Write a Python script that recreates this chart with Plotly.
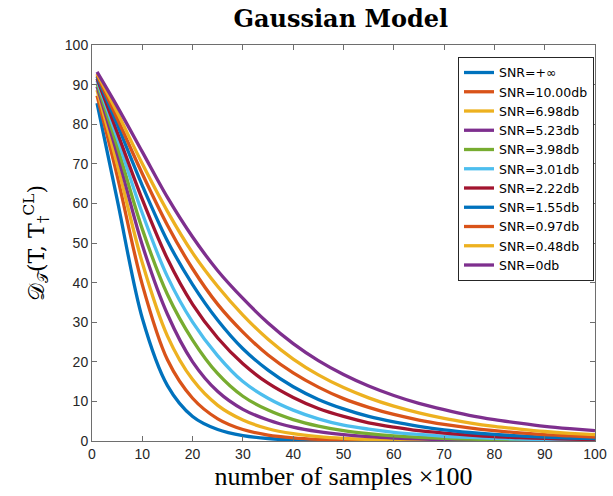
import plotly.graph_objects as go

# sample counts (x100) at which the distance was recorded
samples = [1, 5, 10, 15, 20, 25, 30, 35, 40, 45, 50, 55, 60, 65, 70, 75, 80, 85, 90, 95, 100]

snr_labels = ["SNR=+∞", "SNR=10.00db", "SNR=6.98db", "SNR=5.23db", "SNR=3.98db",
              "SNR=3.01db", "SNR=2.22db", "SNR=1.55db", "SNR=0.97db", "SNR=0.48db",
              "SNR=0db"]

dist_inf = [85.3, 61, 31, 14, 6.2, 2.9, 1.35, 0.63, 0.3, 0.14, 0.07, 0.03, 0.015, 0.01, 0, 0, 0, 0, 0, 0, 0]
dist_10_00 = [87.2, 67, 39.5, 20.5, 10.8, 5.6, 2.9, 1.5, 0.8, 0.42, 0.22, 0.12, 0.06, 0.03, 0.02, 0.01, 0.01, 0, 0, 0, 0]
dist_6_98 = [88.6, 70, 45, 26.5, 15.5, 9.0, 5.3, 3.1, 1.85, 1.1, 0.65, 0.39, 0.23, 0.14, 0.08, 0.05, 0.03, 0.02, 0.01, 0.01, 0]
dist_5_23 = [89.5, 72.5, 49.5, 32, 20, 12.5, 8.0, 5.3, 3.5, 2.35, 1.6, 1.1, 0.75, 0.52, 0.36, 0.25, 0.17, 0.12, 0.08, 0.06, 0.04]
dist_3_98 = [90.3, 74.5, 53.5, 37, 25.5, 17, 11.3, 7.8, 5.4, 3.75, 2.6, 1.85, 1.3, 0.93, 0.66, 0.47, 0.34, 0.24, 0.17, 0.12, 0.09]
dist_3_01 = [91, 76.5, 57.5, 41.5, 30, 21.5, 15, 10.8, 7.8, 5.6, 4.0, 3.0, 2.2, 1.65, 1.2, 0.9, 0.67, 0.5, 0.37, 0.27, 0.2]
dist_2_22 = [91.5, 78, 61, 46, 34.5, 26, 19.5, 14.6, 11.0, 8.2, 6.2, 4.6, 3.5, 2.6, 2.0, 1.5, 1.1, 0.85, 0.64, 0.48, 0.36]
dist_1_55 = [92, 80, 64.5, 50.5, 39.5, 30.5, 23.3, 17.9, 13.7, 10.5, 8.1, 6.2, 4.8, 3.7, 2.8, 2.15, 1.65, 1.27, 0.98, 0.75, 0.58]
dist_0_97 = [92.4, 81.5, 67.5, 54.5, 43.5, 34.5, 27.5, 21.7, 17.2, 13.6, 10.7, 8.5, 6.7, 5.3, 4.2, 3.3, 2.6, 2.05, 1.6, 1.3, 1.0]
dist_0_48 = [92.8, 83, 70, 58, 47.5, 39, 31.8, 25.7, 20.7, 16.7, 13.5, 10.9, 8.8, 7.1, 5.7, 4.6, 3.7, 3.0, 2.4, 1.95, 1.6]
dist_0 = [93.2, 84.5, 73, 61.5, 51.5, 43, 36, 29.8, 24.6, 20.3, 16.8, 13.9, 11.5, 9.5, 7.9, 6.5, 5.4, 4.5, 3.7, 3.1, 2.6]

series = [dist_inf, dist_10_00, dist_6_98, dist_5_23, dist_3_98, dist_3_01,
          dist_2_22, dist_1_55, dist_0_97, dist_0_48, dist_0]

palette = ["#0072BD", "#D95319", "#EDB120", "#7E2F8E", "#77AC30", "#4DBEEE",
           "#A2142F", "#0072BD", "#D95319", "#EDB120", "#7E2F8E"]

x_ticks = list(range(0, 101, 10))
y_ticks = list(range(0, 101, 10))

fig = go.Figure()
for name, vals, col in zip(snr_labels, series, palette):
    fig.add_trace(go.Scatter(
        x=samples, y=vals, mode="lines", name=name,
        line=dict(color=col, width=3.3, shape="spline", smoothing=0.9),
    ))

axis_common = dict(
    showline=True, linecolor="#6e6e6e", linewidth=1, mirror="ticks",
    ticks="inside", ticklen=5, tickcolor="#6e6e6e", tickwidth=1,
    showgrid=False, zeroline=False, automargin=False,
    tickfont=dict(family="Liberation Sans, Arial", size=14, color="#262626"),
)

fig.update_layout(
    width=613, height=496,
    margin=dict(l=92, r=18, t=45, b=55),
    paper_bgcolor="white", plot_bgcolor="white",
    title=dict(
        text="<b>Gaussian Model</b>", x=0.556, xanchor="center", y=0.963, yanchor="middle",
        font=dict(family="DejaVu Serif, Liberation Serif", size=24, color="black"),
    ),
    xaxis=dict(range=[0, 100], tickvals=x_ticks, **axis_common,
               title=dict(text="number of samples ×100", standoff=6,
                          font=dict(family="Liberation Serif, DejaVu Serif", size=26, color="black"))),
    yaxis=dict(range=[0, 100], tickvals=y_ticks, **axis_common,
               title=dict(text="𝒟<sub>𝒯</sub>(T, T<sub>†</sub><sup>CL</sup>)", standoff=14,
                          font=dict(family="DejaVu Serif, Liberation Serif", size=22, color="black"))),
    legend=dict(
        x=0.998, xanchor="right", y=0.97, yanchor="top",
        bgcolor="white", bordercolor="#262626", borderwidth=1,
        font=dict(family="DejaVu Sans, Liberation Sans", size=12.5, color="black"),
        tracegroupgap=0, itemwidth=30,
    ),
    showlegend=True,
)

fig.write_html("out.html")
